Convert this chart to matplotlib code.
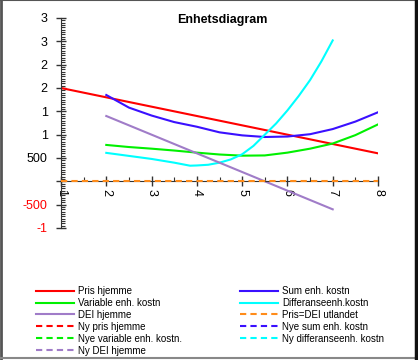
import matplotlib.pyplot as plt
from matplotlib.lines import Line2D
from matplotlib.ticker import MultipleLocator, FuncFormatter

plt.rcParams['font.family'] = ['Liberation Sans', 'DejaVu Sans']

# ---------------- data ----------------
x_pris = [1, 2, 3, 4, 5, 6, 7, 8]
pris_hjemme = [2000, 1800, 1600, 1400, 1200, 1000, 800, 600]

x_kost = [2, 2.5, 3, 3.5, 4, 4.5, 5, 5.5, 6, 6.5, 7, 7.5, 8]
sum_enh = [1850, 1580, 1410, 1270, 1170, 1050, 985, 950, 960, 1010, 1120, 1280, 1480]
var_enh = [780, 735, 700, 660, 615, 575, 550, 555, 615, 700, 810, 990, 1220]

x_diff = [2, 2.5, 3, 3.5, 3.85, 4, 4.25, 4.5, 4.75, 5, 5.25, 5.5, 5.75, 6, 6.25, 6.5, 6.75, 7]
diff_enh = [610, 545, 480, 400, 335, 340, 355, 400, 470, 580, 760, 1000, 1240, 1520, 1830, 2170, 2570, 3020]

x_dei = [2, 3, 4, 5, 6, 7]
dei_hjemme = [1400, 1000, 600, 200, -200, -600]

x_utl = [1, 8]
pris_utlandet = [0, 0]

RED = '#ff0000'
BLUE = '#3a10ff'
GREEN = '#00f000'
CYAN = '#00ffff'
PURPLE = '#a07cc8'
ORANGE = '#ff8c1a'

fig = plt.figure(figsize=(4.18, 3.6), dpi=100)
ax = fig.add_axes([61 / 418, 1 - 228 / 360, (378 - 61) / 418, (228 - 18) / 360])

h_pris, = ax.plot(x_pris, pris_hjemme, color=RED, lw=1.5, label='Pris hjemme')
h_sum, = ax.plot(x_kost, sum_enh, color=BLUE, lw=1.5, label='Sum enh. kostn')
h_var, = ax.plot(x_kost, var_enh, color=GREEN, lw=1.5, label='Variable enh. kostn')
h_diff, = ax.plot(x_diff, diff_enh, color=CYAN, lw=1.5, label='Differanseenh.kostn')
h_dei, = ax.plot(x_dei, dei_hjemme, color=PURPLE, lw=1.5, label='DEI hjemme')
h_utl, = ax.plot(x_utl, pris_utlandet, color=ORANGE, lw=1.5, ls='--', dashes=(3, 2),
                 label='Pris=DEI utlandet', zorder=4, clip_on=False)

# "new" series have no data in the chart, only legend entries
dashed = dict(lw=1.5, ls='--', dashes=(3, 2))
h_ny_pris = Line2D([], [], color=RED, label='Ny pris hjemme', **dashed)
h_ny_sum = Line2D([], [], color=BLUE, label='Nye sum enh. kostn', **dashed)
h_ny_var = Line2D([], [], color=GREEN, label='Nye variable enh. kostn.', **dashed)
h_ny_diff = Line2D([], [], color=CYAN, label='Ny differanseenh. kostn', **dashed)
h_ny_dei = Line2D([], [], color=PURPLE, label='Ny DEI hjemme', **dashed)

ax.set_xlim(1, 8)
ax.set_ylim(-1000, 3500)

ax.spines['top'].set_visible(False)
ax.spines['right'].set_visible(False)
ax.spines['bottom'].set_position(('data', 0))
ax.spines['left'].set_color('#333333')
ax.spines['bottom'].set_color('#333333')

ax.xaxis.set_major_locator(MultipleLocator(1))
ax.xaxis.set_minor_locator(MultipleLocator(0.5))
ax.yaxis.set_major_locator(MultipleLocator(500))
ax.yaxis.set_minor_locator(MultipleLocator(50))


def fmt_y(v, pos):
    if v == 0:
        return ''
    if abs(v) >= 1000:
        return str(int(v / 1000))
    return str(int(v))


ax.yaxis.set_major_formatter(FuncFormatter(fmt_y))
ax.tick_params(axis='both', which='major', direction='inout', length=7, width=1,
               color='#333333', labelsize=9)
ax.tick_params(axis='both', which='minor', direction='in', length=3, width=0.8,
               color='#333333')
ax.tick_params(axis='y', pad=6)
ax.tick_params(axis='x', pad=2)
for lab in ax.get_xticklabels():
    lab.set_rotation(270)
for lab, v in zip(ax.get_yticklabels(), ax.get_yticks()):
    if v < 0:
        lab.set_color(RED)
ax.set_facecolor('none')

fig.text(222 / 418, 1 - 20 / 360, 'Enhetsdiagram', ha='center', va='center',
         fontsize=9, fontweight='bold')

handles = [h_pris, h_var, h_dei, h_ny_pris, h_ny_var, h_ny_dei,
           h_sum, h_diff, h_utl, h_ny_sum, h_ny_diff]
fig.legend(handles=handles, labels=[h.get_label() for h in handles],
           ncol=2, loc='upper left', bbox_to_anchor=(36 / 418, 1 - 286 / 360),
           frameon=False, fontsize=7, handlelength=3.9, handletextpad=0.45,
           columnspacing=5.9, labelspacing=0.2, borderpad=0, borderaxespad=0)

# figure border
fig.add_artist(Line2D([0.002, 0.002], [0, 1], transform=fig.transFigure, color='#555555', lw=2))
fig.add_artist(Line2D([0, 1], [0.999, 0.999], transform=fig.transFigure, color='#555555', lw=1.5))
fig.add_artist(Line2D([0, 1], [1 - 357.5 / 360] * 2, transform=fig.transFigure, color='#888888', lw=1.5))
fig.add_artist(Line2D([416 / 418] * 2, [0, 1], transform=fig.transFigure, color='#111111', lw=2.5))

fig.savefig('out.png', dpi=100)
